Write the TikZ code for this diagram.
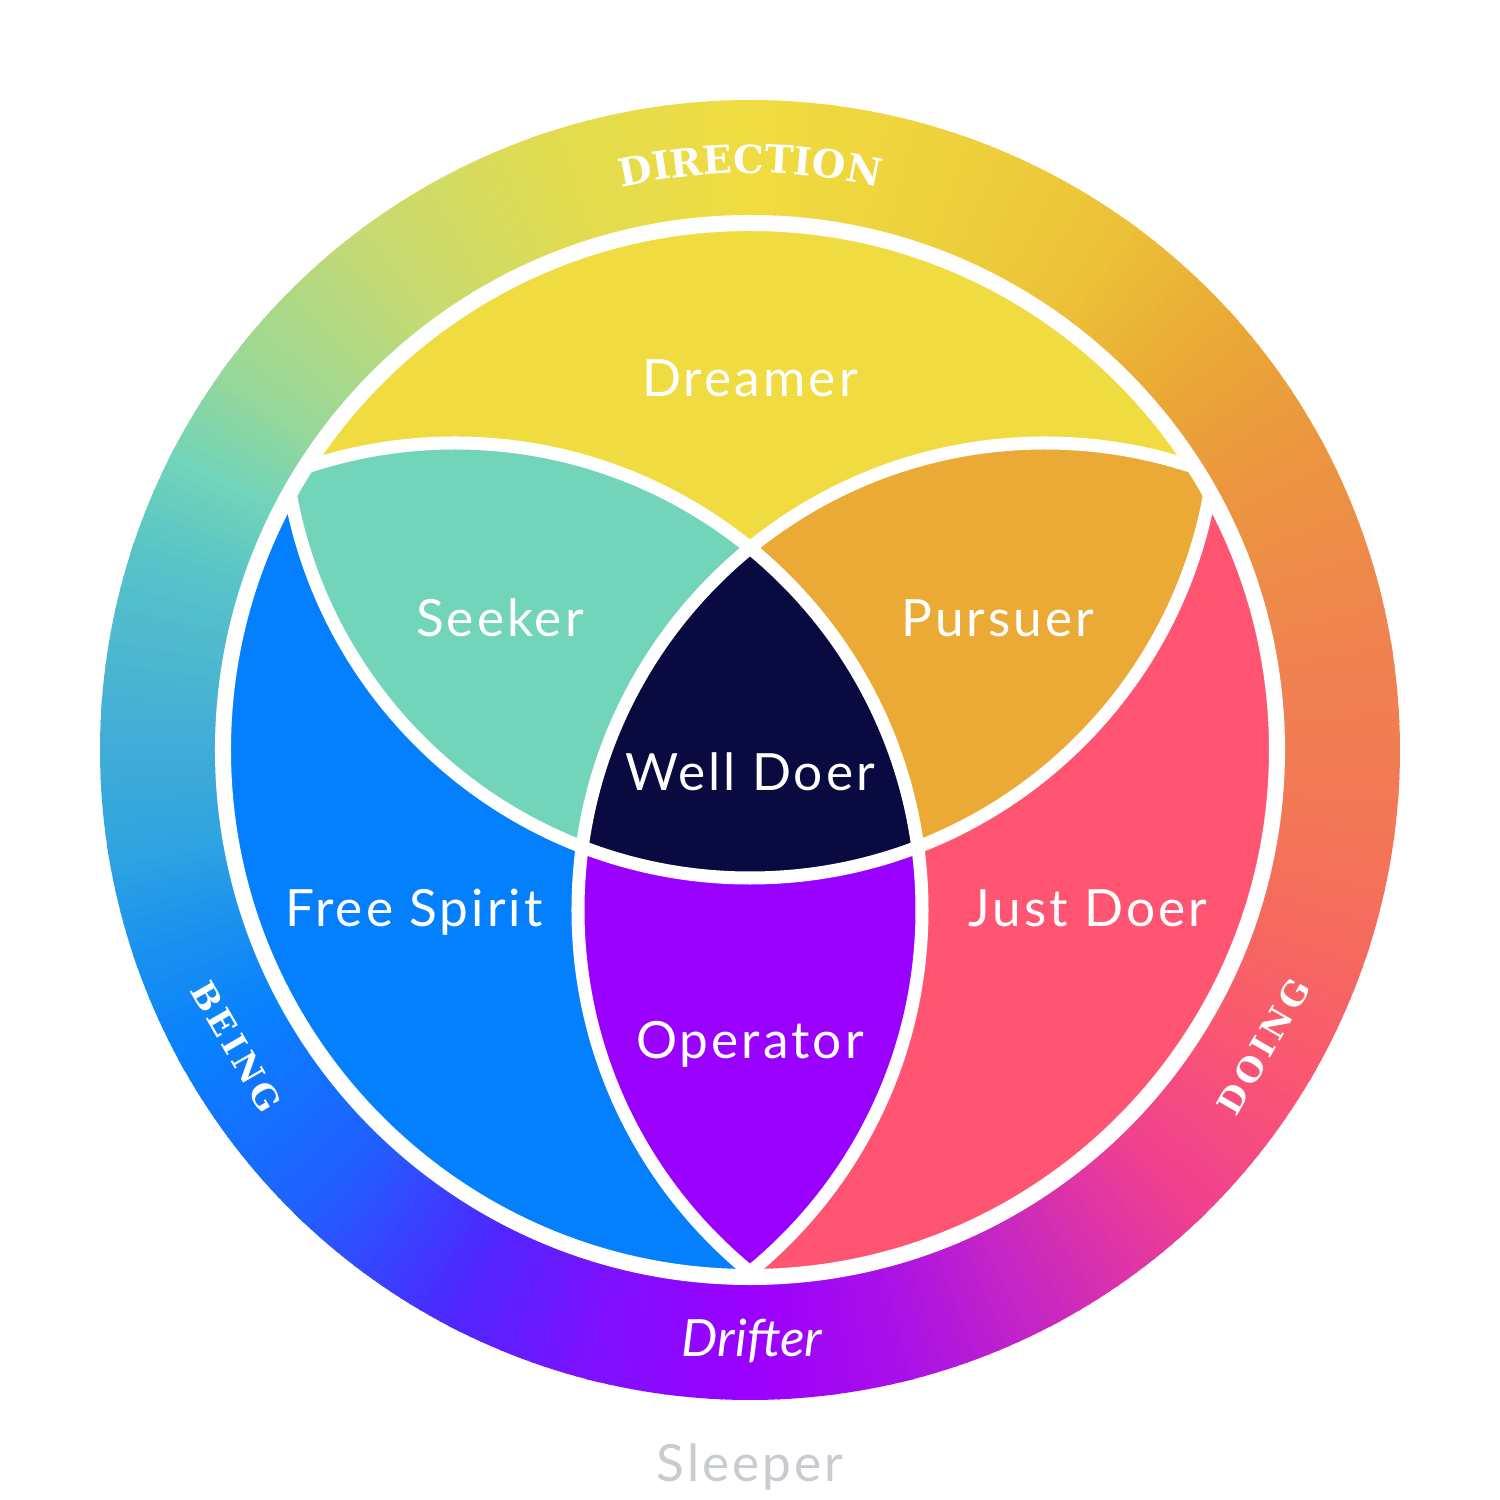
\documentclass[tikz,border=0pt]{standalone}
\usepackage{fontspec}
\setmainfont{Lato}
\newfontfamily\lblfont{Lato}[LetterSpace=6]
\newfontfamily\slabfont{DejaVu Serif}
\newfontfamily\slabspaced{DejaVu Serif}[LetterSpace=12]
\usetikzlibrary{decorations.text}
\definecolor{g01}{HTML}{30A4E0}
\definecolor{g02}{HTML}{1890F0}
\definecolor{g03}{HTML}{0880FF}
\definecolor{g04}{HTML}{2060FF}
\definecolor{g05}{HTML}{5025FF}
\definecolor{g06}{HTML}{8010FF}
\definecolor{g07}{HTML}{9A00FF}
\definecolor{g08}{HTML}{A810E8}
\definecolor{g09}{HTML}{C828C0}
\definecolor{g10}{HTML}{F04090}
\definecolor{g11}{HTML}{FA5870}
\definecolor{g12}{HTML}{F66A5E}
\definecolor{g13}{HTML}{F27A55}
\definecolor{g14}{HTML}{F08250}
\definecolor{g15}{HTML}{EC9540}
\definecolor{g16}{HTML}{EAAA35}
\definecolor{g17}{HTML}{ECC038}
\definecolor{g18}{HTML}{EED03C}
\definecolor{g19}{HTML}{F0DC40}
\definecolor{g20}{HTML}{E0DC50}
\definecolor{g21}{HTML}{C8DA70}
\definecolor{g22}{HTML}{98D898}
\definecolor{g23}{HTML}{72D4B8}
\definecolor{g24}{HTML}{58C4C8}
\definecolor{g25}{HTML}{48B0D4}
\definecolor{cdream}{HTML}{F0DC40}
\definecolor{cseek}{HTML}{72D4B8}
\definecolor{cpurs}{HTML}{EAAA35}
\definecolor{cwell}{HTML}{080A40}
\definecolor{cfree}{HTML}{0480FF}
\definecolor{coper}{HTML}{9900FF}
\definecolor{cjust}{HTML}{FF5573}
\definecolor{csleep}{HTML}{C8CCD0}
\newcommand\capsfont{\slabfont\bfseries\fontsize{11pt}{13pt}\selectfont\color{white}}
\begin{document}
\begin{tikzpicture}[x=0.01cm,y=0.01cm,
  lbl/.style={text=white, font=\lblfont\fontsize{14.6pt}{17pt}\selectfont, inner sep=0pt, anchor=base},
  ringcap/.style={text=white, font=\slabspaced\bfseries\fontsize{9.5pt}{11pt}\selectfont, inner sep=0pt},
  vennline/.style={draw=white, line width=0.13cm},
  rimline/.style={draw=white, line width=0.16cm}]
\useasboundingbox (-750,-750) rectangle (750,750);
\fill[white] (-750,-750) rectangle (750,750);
% conic gradient ring
\foreach \a/\ca/\b/\cb in {-171/g01/-161/g02, -161/g02/-151/g03, -151/g03/-134/g04, -134/g04/-117/g05, -117/g05/-104/g06, -104/g06/-90/g07, -90/g07/-76/g08, -76/g08/-62/g09, -62/g09/-46/g10, -46/g10/-30/g11, -30/g11/-18/g12, -18/g12/-4/g13, -4/g13/9/g14, 9/g14/28/g15, 28/g15/42/g16, 42/g16/54/g17, 54/g17/70/g18, 70/g18/90/g19, 90/g19/109/g20, 109/g20/126/g21, 126/g21/144/g22, 144/g22/153/g23, 153/g23/162/g24, 162/g24/176/g25, 176/g25/189/g01}
{
  \foreach \t in {\a,...,\b}
  {
    \pgfmathsetmacro\p{100*(\b-\t)/(\b-\a)}
    \pgfmathsetmacro\sa{\t-0.6}
    \pgfmathsetmacro\ea{\t+0.6}
    \fill[color=\ca!\p!\cb] (0,0) -- (\sa:650) arc[start angle=\sa, end angle=\ea, radius=650] -- cycle;
  }
}
\coordinate (O) at (0,0);
\coordinate (T) at (0,339);
\coordinate (L) at (-295,-160);
\coordinate (R) at (295,-160);
\fill[white] (O) circle[radius=527];
\begin{scope}
  \clip (O) circle[radius=527];
  \fill[cdream] (T) circle[radius=467];
  \fill[cfree] (L) circle[radius=467];
  \fill[cjust] (R) circle[radius=467];
  \begin{scope}
    \clip (T) circle[radius=467];
    \fill[cseek] (L) circle[radius=467];
    \fill[cpurs] (R) circle[radius=467];
  \end{scope}
  \begin{scope}
    \clip (L) circle[radius=467];
    \fill[coper] (R) circle[radius=467];
  \end{scope}
  \begin{scope}
    \clip (T) circle[radius=467];
    \clip (L) circle[radius=467];
    \fill[cwell] (R) circle[radius=467];
  \end{scope}
  \draw[vennline] (T) circle[radius=467];
  \draw[vennline] (L) circle[radius=467];
  \draw[vennline] (R) circle[radius=467];
\end{scope}
\draw[rimline] (O) circle[radius=527];
% labels
\node[lbl] (dreamer) at (0,353) {Dreamer};
\node[lbl] (seeker) at (-250,113) {Seeker};
\node[lbl] (pursuer) at (248,113) {Pursuer};
\node[lbl] (welldoer) at (0,-41) {Well Doer};
\node[lbl] (freespirit) at (-336,-177) {Free Spirit};
\node[lbl] (justdoer) at (338,-177) {Just Doer};
\node[lbl] (operator) at (0,-308) {Operator};
\node[lbl, font=\fontsize{14.6pt}{17pt}\selectfont\itshape] (drifter) at (2,-606) {Drifter};
\node[lbl, text=csleep] (sleeper) at (0,-731) {Sleeper};
% ring captions
\path[decorate, decoration={text along path, text={|\capsfont|DIRECTION}, text align=center}]
  (125:577) arc[start angle=125, end angle=55, radius=577];
\node[ringcap, rotate=-60] (being) at (-150:593) {BEING};
\node[ringcap, rotate=60] (doing) at (-30:593) {DOING};
\end{tikzpicture}
\end{document}
